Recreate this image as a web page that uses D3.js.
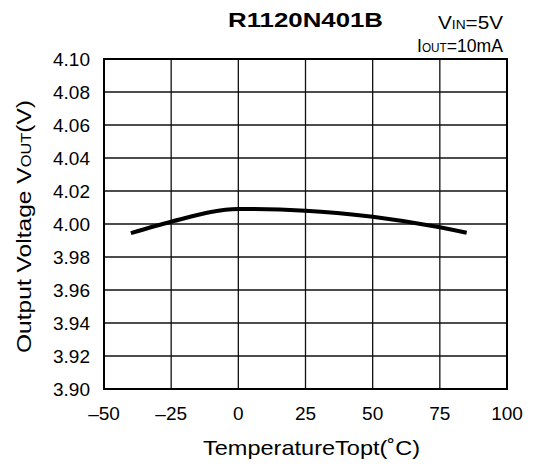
<!DOCTYPE html>
<html>
<head>
<meta charset="utf-8">
<script src="https://cdn.jsdelivr.net/npm/d3@7"></script>
<style>
  body { margin: 0; background: #fff; }
  text { font-family: "Liberation Sans", Arial, sans-serif; fill: #000; }
</style>
</head>
<body>
<svg width="542" height="468"></svg>
<script>
// data
var temps = [-40, -25, 0, 25, 50, 75, 85];
var vout = [3.9945, 4.0014, 4.0091, 4.0081, 4.0044, 3.998, 3.9947];
var xTicks = [-50, -25, 0, 25, 50, 75, 100];
var yTicks = [3.90, 3.92, 3.94, 3.96, 3.98, 4.00, 4.02, 4.04, 4.06, 4.08, 4.10];

var svg = d3.select("svg");

// plot box
var pLeft = 104, pRight = 507, pTop = 59, pBottom = 389;

var x = d3.scaleLinear().domain([-50, 100]).range([pLeft, pRight]);
var y = d3.scaleLinear().domain([3.90, 4.10]).range([pBottom, pTop]);

// grid
svg.append("g")
    .selectAll("line")
    .data(xTicks)
    .enter()
    .append("line")
    .attr("x1", function(d){ return x(d) })
    .attr("x2", function(d){ return x(d) })
    .attr("y1", pTop)
    .attr("y2", pBottom)
    .attr("stroke", "#111")
    .attr("stroke-width", 1.3)

svg.append("g")
    .selectAll("line")
    .data(yTicks)
    .enter()
    .append("line")
    .attr("x1", pLeft)
    .attr("x2", pRight)
    .attr("y1", function(d){ return y(d) })
    .attr("y2", function(d){ return y(d) })
    .attr("stroke", "#111")
    .attr("stroke-width", 1.3)

// frame
svg.append("rect")
    .attr("x", pLeft)
    .attr("y", pTop)
    .attr("width", pRight - pLeft)
    .attr("height", pBottom - pTop)
    .attr("fill", "none")
    .attr("stroke", "#000")
    .attr("stroke-width", 2)

// tick labels
svg.append("g")
    .selectAll("text")
    .data(yTicks)
    .enter()
    .append("text")
    .attr("x", 90)
    .attr("y", function(d){ return y(d) + 7 })
    .attr("text-anchor", "end")
    .style("font-size", "19px")
    .text(function(d){ return d.toFixed(2) })

svg.append("g")
    .selectAll("text")
    .data(xTicks)
    .enter()
    .append("text")
    .attr("x", function(d){ return x(d) })
    .attr("y", 420)
    .attr("text-anchor", "middle")
    .style("font-size", "19px")
    .text(function(d){ return d < 0 ? "\u2013" + Math.abs(d) : d })

// curve
var pts = temps.map(function(t, i){ return [t, vout[i]] });
svg.append("path")
    .datum(pts)
    .attr("fill", "none")
    .attr("stroke", "#000")
    .attr("stroke-width", 4)
    .attr("d", d3.line()
        .x(function(d){ return x(d[0]) })
        .y(function(d){ return y(d[1]) })
        .curve(d3.curveMonotoneX))

// titles
svg.append("text")
    .attr("x", 228)
    .attr("y", 27)
    .attr("textLength", 155)
    .attr("lengthAdjust", "spacingAndGlyphs")
    .style("font-size", "21px")
    .style("font-weight", "bold")
    .text("R1120N401B")

var t1 = svg.append("text")
    .attr("x", 438)
    .attr("y", 29)
    .attr("textLength", 65)
    .attr("lengthAdjust", "spacingAndGlyphs")
    .style("font-size", "18px")
t1.append("tspan").text("V")
t1.append("tspan").style("font-size", "12px").text("IN")
t1.append("tspan").text("=5V")

var t2 = svg.append("text")
    .attr("x", 417)
    .attr("y", 52)
    .attr("textLength", 86)
    .attr("lengthAdjust", "spacingAndGlyphs")
    .style("font-size", "18px")
t2.append("tspan").text("I")
t2.append("tspan").style("font-size", "12px").text("OUT")
t2.append("tspan").text("=10mA")

svg.append("text")
    .attr("x", 203)
    .attr("y", 455)
    .attr("textLength", 217)
    .attr("lengthAdjust", "spacingAndGlyphs")
    .style("font-size", "21px")
    .text("TemperatureTopt(\u02DAC)")

var yl = svg.append("text")
    .attr("transform", "translate(31,353) rotate(-90)")
    .attr("textLength", 253)
    .attr("lengthAdjust", "spacingAndGlyphs")
    .style("font-size", "21px")
yl.append("tspan").text("Output Voltage V")
yl.append("tspan").style("font-size", "14px").text("OUT")
yl.append("tspan").text("(V)")
</script>
</body>
</html>
